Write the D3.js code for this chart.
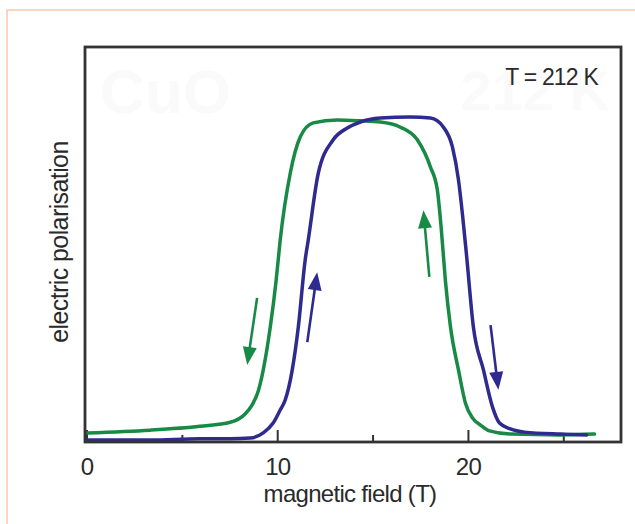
<!DOCTYPE html>
<html>
<head>
<meta charset="utf-8">
<script src="https://cdn.jsdelivr.net/npm/d3@7"></script>
<style>
  body { margin: 0; background: #fff; }
  text { font-family: "Liberation Sans", Arial, Helvetica, sans-serif; }
</style>
</head>
<body>
<div id="chart"></div>
<script>
// field sweep up (blue) : field in T, polarisation in arb. units
const upField = [0, 3.3, 5.9, 7.5, 8.56, 9.24, 9.76, 10.13, 10.39, 10.76, 11.08, 11.44, 11.6, 12.13, 12.91, 13.65, 14.33, 15.38, 16.96, 18.01, 18.69, 19.16, 19.48, 19.69, 19.9, 20.26, 20.79, 21.26, 21.63, 22.2, 22.94, 24.83, 26.2];
const upPol   = [0.005, 0.005, 0.008, 0.008, 0.010, 0.023, 0.048, 0.081, 0.106, 0.182, 0.291, 0.461, 0.511, 0.681, 0.765, 0.795, 0.810, 0.820, 0.823, 0.820, 0.797, 0.747, 0.663, 0.575, 0.473, 0.291, 0.182, 0.089, 0.048, 0.033, 0.025, 0.020, 0.018];

// field sweep down (green)
const downField = [0, 3.31, 5.93, 7.51, 8.29, 8.66, 8.98, 9.24, 9.61, 9.92, 10.13, 10.66, 11.18, 11.86, 13.12, 14.33, 15.38, 16.43, 17.32, 18.01, 18.37, 18.58, 18.79, 19.06, 19.48, 19.84, 20.21, 20.63, 21.1, 22.2, 24.83, 26.61];
const downPol   = [0.023, 0.030, 0.040, 0.050, 0.071, 0.094, 0.129, 0.182, 0.291, 0.410, 0.511, 0.681, 0.772, 0.808, 0.815, 0.813, 0.810, 0.797, 0.765, 0.696, 0.638, 0.537, 0.410, 0.291, 0.182, 0.099, 0.061, 0.043, 0.028, 0.020, 0.018, 0.020];

// sweep direction arrows: [fieldFrom, polFrom, fieldTo, polTo]
const arrowSeries = ["down", "up", "up", "down"];
const arrows = [
  [8.92, 0.365, 8.40, 0.195],
  [11.55, 0.253, 12.07, 0.430],
  [21.16, 0.296, 21.57, 0.132],
  [17.95, 0.418, 17.64, 0.587]
];

const majorTicks = [0, 10, 20];
const minorTicks = [5, 15, 25];
const colors = {up: "#2e2a8e", down: "#178a45"};

const width = 635, height = 524;
const frame = {left: 85, top: 47, right: 621, bottom: 442};

const svg = d3.select("#chart").append("svg")
    .attr("width", width)
    .attr("height", height);

// faint page border
svg.append("path")
    .attr("d", `M7,${height} V10 H${width}`)
    .attr("fill", "none")
    .attr("stroke", "#f7c9ab")
    .attr("stroke-width", 1.5);

const x = d3.scaleLinear().domain([0, 28]).range([87, 621]);
const y = d3.scaleLinear().domain([0, 1]).range([frame.bottom, frame.top]);

// very faint watermark text
svg.append("text")
    .attr("x", 100).attr("y", 113)
    .attr("font-size", 62).attr("font-weight", "bold")
    .attr("fill", "#fafafa")
    .text("CuO");
svg.append("text")
    .attr("x", 610).attr("y", 110)
    .attr("text-anchor", "end")
    .attr("font-size", 56).attr("font-weight", "bold")
    .attr("fill", "#fafafa")
    .text("212 K");

// ticks on bottom axis, pointing inward
const axis = svg.append("g");
axis.selectAll(".major")
    .data(majorTicks)
    .enter().append("line")
    .attr("x1", d => x(d)).attr("x2", d => x(d))
    .attr("y1", frame.bottom).attr("y2", frame.bottom - 12)
    .attr("stroke", "#333").attr("stroke-width", 2);
axis.selectAll(".minor")
    .data(minorTicks)
    .enter().append("line")
    .attr("x1", d => x(d)).attr("x2", d => x(d))
    .attr("y1", frame.bottom).attr("y2", frame.bottom - 7)
    .attr("stroke", "#333").attr("stroke-width", 2);
axis.selectAll("text")
    .data(majorTicks)
    .enter().append("text")
    .attr("x", d => x(d))
    .attr("y", 475)
    .attr("text-anchor", "middle")
    .attr("font-size", 24)
    .attr("letter-spacing", -0.8)
    .attr("fill", "#2a2a2a")
    .text(d => d);

const line = d3.line()
    .x(d => x(d[0]))
    .y(d => y(d[1]))
    .curve(d3.curveMonotoneX);

const series = [
  {key: "down", pts: d3.zip(downField, downPol)},
  {key: "up", pts: d3.zip(upField, upPol)}
];

svg.append("g").selectAll("path")
    .data(series)
    .enter().append("path")
    .attr("d", d => line(d.pts))
    .attr("fill", "none")
    .attr("stroke", d => colors[d.key])
    .attr("stroke-width", 3.5)
    .attr("stroke-linejoin", "round")
    .attr("stroke-linecap", "round");

// arrows
const ag = svg.append("g");
arrows.forEach((a, i) => {
    const x0 = x(a[0]), y0 = y(a[1]), x1 = x(a[2]), y1 = y(a[3]);
    const dx = x1 - x0, dy = y1 - y0, len = Math.hypot(dx, dy);
    const ux = dx / len, uy = dy / len;
    const headLen = 18, headW = 7;
    const bx = x1 - ux * headLen, by = y1 - uy * headLen;
    const c = colors[arrowSeries[i]];
    ag.append("line")
        .attr("x1", x0).attr("y1", y0)
        .attr("x2", bx + ux * 2).attr("y2", by + uy * 2)
        .attr("stroke", c).attr("stroke-width", 2.6);
    ag.append("path")
        .attr("d", `M${x1},${y1} L${bx - uy * headW},${by + ux * headW} L${bx + uy * headW},${by - ux * headW} Z`)
        .attr("fill", c);
});

// frame
svg.append("rect")
    .attr("x", frame.left).attr("y", frame.top)
    .attr("width", frame.right - frame.left)
    .attr("height", frame.bottom - frame.top)
    .attr("fill", "none")
    .attr("stroke", "#333")
    .attr("stroke-width", 2.8);

svg.append("text")
    .attr("x", 598).attr("y", 85)
    .attr("text-anchor", "end")
    .attr("font-size", 23)
    .attr("letter-spacing", -0.8)
    .attr("fill", "#2a2a2a")
    .text("T = 212 K");

svg.append("text")
    .attr("x", 350).attr("y", 502)
    .attr("text-anchor", "middle")
    .attr("font-size", 24)
    .attr("letter-spacing", -0.7)
    .attr("fill", "#2a2a2a")
    .text("magnetic field (T)");

svg.append("text")
    .attr("transform", "translate(68,242) rotate(-90)")
    .attr("text-anchor", "middle")
    .attr("font-size", 25)
    .attr("letter-spacing", -0.6)
    .attr("fill", "#2a2a2a")
    .text("electric polarisation");
</script>
</body>
</html>
